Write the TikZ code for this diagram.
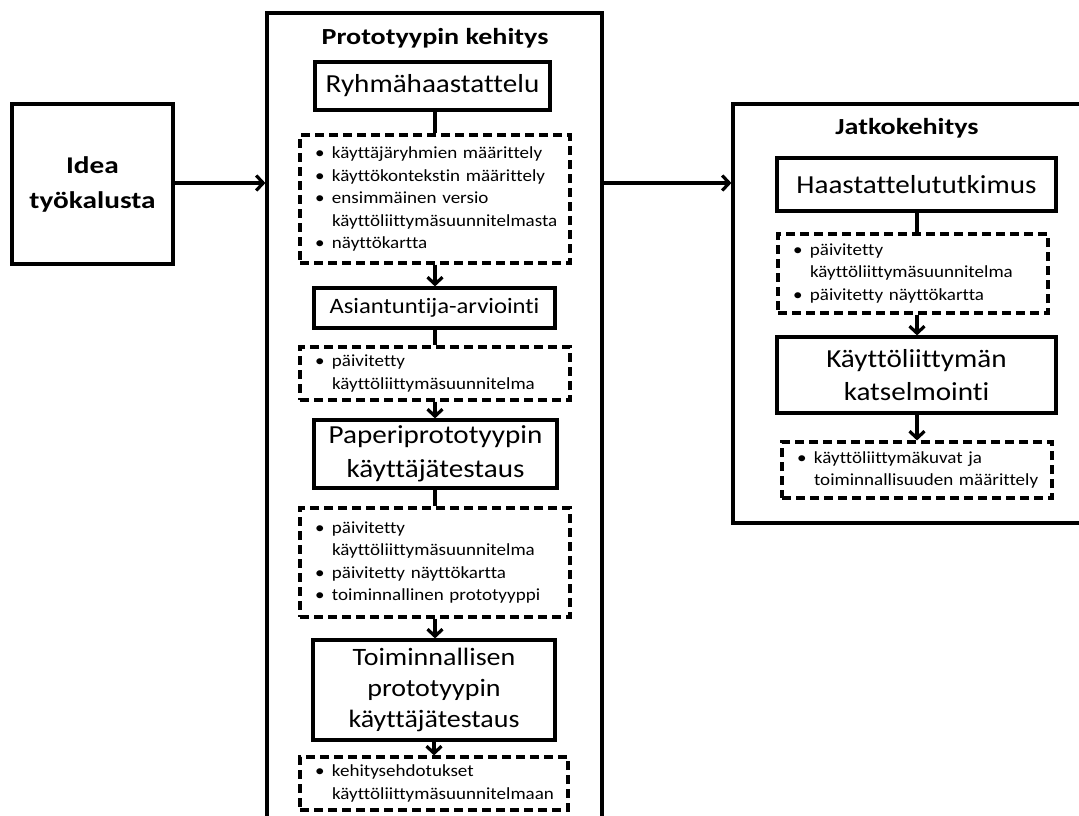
\documentclass[tikz,border=0pt]{standalone}
\usepackage{fontspec}
\setmainfont{Carlito}[Ligatures=NoCommon, FakeStretch=1.12]
\newfontfamily\headfont{Carlito}[Ligatures=NoCommon, FakeStretch=1.22]
\usetikzlibrary{arrows.meta}

% bullet lines for the note boxes (kept on one line each)
\newcommand{\bul}[1]{\mbox{\makebox[17pt][l]{\textbullet}#1}}
\newcommand{\ind}[1]{\mbox{\hspace*{17pt}#1}}

\begin{document}
\begin{tikzpicture}[x=1pt,y=-1pt,
  frame/.style={draw, line width=3.2pt, inner sep=0pt},
  stage/.style={draw, line width=3.2pt, inner sep=0pt, align=center,
    font=\fontsize{26}{32}\selectfont},
  note/.style={draw, line width=3.2pt, dash pattern=on 9pt off 5pt,
    inner sep=0pt, align=left, font=\fontsize{17}{22.5}\selectfont},
  heading/.style={font=\headfont\bfseries\fontsize{23}{26}\selectfont},
  link/.style={line width=3.2pt},
  flow/.style={line width=3.2pt,
    -{Straight Barb[length=7pt,width=15pt,line width=3.2pt]}}
]
\useasboundingbox (0,0) rectangle (1079,815);
\clip (0,0) rectangle (1079,815);

% idea box
\node[frame, minimum width=161pt, minimum height=160pt, align=center,
  font=\headfont\bfseries\fontsize{24}{35}\selectfont] (idea) at (92.5,184)
  {Idea\\työkalusta};

% prototype development frame
\node[frame, minimum width=335pt, minimum height=840pt] (proto) at (434.5,433) {};
\node[heading] (protoT) at (435,38) {Prototyypin kehitys};

\node[stage, minimum width=235pt, minimum height=48pt] (s1) at (432.5,86) {Ryhmähaastattelu};
\node[note, minimum width=270pt, minimum height=128pt, text width=240pt] (n1) at (435,199)
  {\bul{käyttäjäryhmien määrittely}\\
   \bul{käyttökontekstin määrittely}\\
   \bul{ensimmäinen versio}\\
   \ind{käyttöliittymäsuunnitelmasta}\\
   \bul{näyttökartta}};

\node[stage, minimum width=241pt, minimum height=40pt,
  font=\fontsize{22}{26}\selectfont] (s2) at (434.5,308) {Asiantuntija-arviointi};
\node[note, minimum width=270pt, minimum height=53pt, text width=240pt] (n2) at (435,373.5)
  {\bul{päivitetty}\\
   \ind{käyttöliittymäsuunnitelma}};

\node[stage, minimum width=243pt, minimum height=68pt,
  font=\fontsize{26}{34}\selectfont] (s3) at (435.5,454) {Paperiprototyypin\\käyttäjätestaus};
\node[note, minimum width=270pt, minimum height=109pt, text width=240pt] (n3) at (435,562.5)
  {\bul{päivitetty}\\
   \ind{käyttöliittymäsuunnitelma}\\
   \bul{päivitetty näyttökartta}\\
   \bul{toiminnallinen prototyyppi}};

\node[stage, minimum width=242pt, minimum height=100pt,
  font=\fontsize{25}{31}\selectfont] (s4) at (434,690) {Toiminnallisen\\prototyypin\\käyttäjätestaus};
\node[note, minimum width=268pt, minimum height=53pt, text width=238pt] (n4) at (434,783.5)
  {\bul{kehitysehdotukset}\\
   \ind{käyttöliittymäsuunnitelmaan}};

% further development frame
\node[frame, minimum width=357pt, minimum height=419pt] (cont) at (911.5,313.5) {};
\node[heading] (contT) at (907,128) {Jatkokehitys};

\node[stage, minimum width=279pt, minimum height=53pt] (t1) at (916.5,184.5) {Haastattelututkimus};
\node[note, minimum width=270pt, minimum height=79pt, text width=240pt] (m1) at (913,273.5)
  {\bul{päivitetty}\\
   \ind{käyttöliittymäsuunnitelma}\\
   \bul{päivitetty näyttökartta}};

\node[stage, minimum width=279pt, minimum height=76pt,
  font=\fontsize{26}{33}\selectfont] (t2) at (916.5,375) {Käyttöliittymän\\katselmointi};
\node[note, minimum width=270pt, minimum height=56pt, text width=240pt] (m2) at (917,470)
  {\bul{käyttöliittymäkuvat ja}\\
   \ind{toiminnallisuuden määrittely}};

% connectors
\coordinate (row) at (0,183);
\draw[flow] (idea.east |- row) -- (proto.west |- row);
\draw[flow] (proto.east |- row) -- (cont.west |- row);

\draw[link] (s1.south -| n1.north) -- (n1.north);
\draw[flow] (n1.south) -- (n1.south |- s2.north);
\draw[link] (s2.south -| n2.north) -- (n2.north);
\draw[flow] (n2.south) -- (n2.south |- s3.north);
\draw[link] (s3.south -| n3.north) -- (n3.north);
\draw[flow] (n3.south) -- (n3.south |- s4.north);
\draw[flow] (s4.south -| n4.north) -- (n4.north);

\coordinate (rx) at (m2.north);
\draw[link] (t1.south -| rx) -- (m1.north -| rx);
\draw[flow] (m1.south -| rx) -- (t2.north -| rx);
\draw[flow] (t2.south -| rx) -- (m2.north);
\end{tikzpicture}
\end{document}
